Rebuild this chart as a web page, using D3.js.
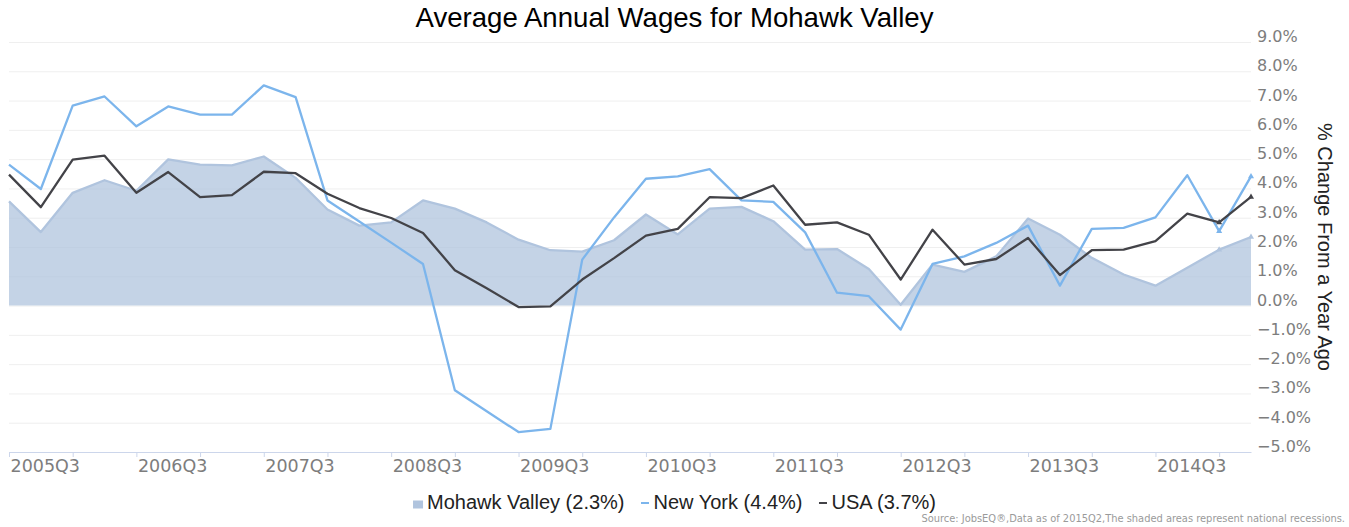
<!DOCTYPE html>
<html>
<head>
<meta charset="utf-8">
<style>
body { margin: 0; background: #fff; }
.grid line { stroke: #efefef; stroke-width: 1px; }
.grid path { display: none; }
.tick-labels text { font-family: "DejaVu Sans", sans-serif; fill: #7d7d7d; }
.tick-labels path, .tick-labels line { display: none; }
.x-ticks path, .x-ticks line { stroke: #ccd6eb; }
.line { fill: none; stroke-width: 2.3px; stroke-linejoin: round; }
</style>
</head>
<body>
<script src="https://d3js.org/d3.v7.min.js"></script>
<script>

// quarters on the x axis
var quarters = [
  "2005Q3", "2005Q4", "2006Q1", "2006Q2", "2006Q3", "2006Q4", "2007Q1", "2007Q2",
  "2007Q3", "2007Q4", "2008Q1", "2008Q2", "2008Q3", "2008Q4", "2009Q1", "2009Q2",
  "2009Q3", "2009Q4", "2010Q1", "2010Q2", "2010Q3", "2010Q4", "2011Q1", "2011Q2",
  "2011Q3", "2011Q4", "2012Q1", "2012Q2", "2012Q3", "2012Q4", "2013Q1", "2013Q2",
  "2013Q3", "2013Q4", "2014Q1", "2014Q2", "2014Q3", "2014Q4", "2015Q1", "2015Q2"
];

// % change from a year ago
var mohawkValley = [
  3.56, 2.51, 3.85, 4.28, 3.92, 4.99, 4.81, 4.79, 5.09, 4.36,
  3.28, 2.73, 2.84, 3.59, 3.31, 2.84, 2.25, 1.89, 1.84, 2.23,
  3.11, 2.43, 3.31, 3.37, 2.88, 1.91, 1.93, 1.25, 0.03, 1.40,
  1.15, 1.68, 2.97, 2.42, 1.63, 1.06, 0.68, 1.29, 1.91, 2.34
];
var newYork = [
  4.81, 3.98, 6.83, 7.14, 6.12, 6.80, 6.52, 6.52, 7.52, 7.12,
  3.59, 2.87, 2.15, 1.42, -2.89, -3.61, -4.32, -4.21, 1.57, 3.01,
  4.33, 4.41, 4.66, 3.59, 3.54, 2.50, 0.44, 0.32, -0.82, 1.42,
  1.68, 2.14, 2.73, 0.68, 2.62, 2.65, 3.01, 4.45, 2.54, 4.41
];
var usa = [
  4.47, 3.36, 4.98, 5.12, 3.85, 4.56, 3.70, 3.77, 4.57, 4.52,
  3.82, 3.33, 2.99, 2.48, 1.21, 0.59, -0.05, -0.03, 0.89, 1.62,
  2.39, 2.62, 3.70, 3.67, 4.10, 2.76, 2.84, 2.42, 0.89, 2.59,
  1.40, 1.59, 2.31, 1.04, 1.89, 1.91, 2.20, 3.14, 2.84, 3.71
];

var yTicks = [-5, -4, -3, -2, -1, 0, 1, 2, 3, 4, 5, 6, 7, 8, 9];
var xLabels = ["2005Q3", "2006Q3", "2007Q3", "2008Q3", "2009Q3",
               "2010Q3", "2011Q3", "2012Q3", "2013Q3", "2014Q3"];
var legendLabels = ["Mohawk Valley (2.3%)", "New York (4.4%)", "USA (3.7%)"];

var width = 1349, height = 527;
var plot = {left: 9, right: 1251, top: 42, bottom: 452};

var svg = d3.select("body").append("svg")
    .attr("width", width)
    .attr("height", height);

var x = d3.scalePoint().domain(quarters).range([plot.left, plot.right]);
var y = d3.scaleLinear().domain([-5, 9]).range([plot.bottom, plot.top]);

// grid lines
svg.append("g")
    .attr("class", "grid")
    .attr("transform", "translate(" + plot.left + ",0)")
    .call(d3.axisRight(y).tickValues(yTicks).tickSize(plot.right - plot.left).tickFormat(""));

// x axis line + tick marks every second quarter
svg.append("g")
    .attr("class", "x-ticks")
    .attr("transform", "translate(0," + plot.bottom + ")")
    .call(d3.axisBottom(x)
      .tickValues(quarters.filter(function(d, i) { return i % 2 === 0; }))
      .tickSize(5).tickSizeOuter(0).tickFormat(""));

// x labels, left-aligned at their tick
var xl = svg.append("g")
    .attr("class", "tick-labels")
    .attr("transform", "translate(0," + plot.bottom + ")")
    .call(d3.axisBottom(x).tickValues(xLabels).tickSize(0).tickPadding(0));
xl.selectAll("text")
    .attr("text-anchor", "start")
    .attr("x", 1)
    .attr("y", 20)
    .attr("dy", 0)
    .style("font-size", "17.5px");

// y labels on the right
var fmt = d3.format(".1f");
var yl = svg.append("g")
    .attr("class", "tick-labels")
    .attr("transform", "translate(1257,0)")
    .call(d3.axisRight(y).tickValues(yTicks).tickSize(0).tickPadding(0)
      .tickFormat(function(d) { return fmt(d) + "%"; }));
yl.selectAll("text")
    .attr("x", 0)
    .attr("y", -0.5)
    .attr("dy", 0)
    .style("font-size", "16px");

// Mohawk Valley area
var area = d3.area()
    .x(function(d, i) { return x(quarters[i]); })
    .y0(y(0))
    .y1(function(d) { return y(d); });
var line = d3.line()
    .x(function(d, i) { return x(quarters[i]); })
    .y(function(d) { return y(d); });

svg.append("path")
    .datum(mohawkValley)
    .attr("fill", "#b0c4de")
    .attr("fill-opacity", 0.75)
    .attr("d", area);
svg.append("path")
    .datum(mohawkValley)
    .attr("class", "line")
    .attr("stroke", "#b0c4de")
    .attr("d", line);

svg.append("path")
    .datum(newYork)
    .attr("class", "line")
    .attr("stroke", "#7cb5ec")
    .attr("d", line);

svg.append("path")
    .datum(usa)
    .attr("class", "line")
    .attr("stroke", "#434348")
    .attr("d", line);

// small markers on the last two quarters
var tri = d3.symbol().type(d3.symbolTriangle).size(16);
[[mohawkValley, "#b0c4de"], [newYork, "#7cb5ec"], [usa, "#434348"]].forEach(function(s) {
  svg.selectAll(null)
      .data(quarters.slice(-2))
      .enter().append("path")
      .attr("d", tri)
      .attr("fill", s[1])
      .attr("transform", function(q) {
        return "translate(" + x(q) + "," + y(s[0][quarters.indexOf(q)]) + ")";
      });
});

// title
svg.append("text")
    .attr("x", width / 2)
    .attr("y", 27)
    .attr("text-anchor", "middle")
    .style("font-family", "'Liberation Sans', Arial, sans-serif")
    .style("font-size", "27.6px")
    .style("fill", "#000")
    .text("Average Annual Wages for Mohawk Valley");

// y axis title
svg.append("text")
    .attr("transform", "translate(1318," + ((plot.top + plot.bottom) / 2) + ") rotate(90)")
    .attr("text-anchor", "middle")
    .style("font-family", "'Liberation Sans', Arial, sans-serif")
    .style("font-size", "20px")
    .style("fill", "#222")
    .text("% Change From a Year Ago");

// legend
var legend = svg.append("g");
var colors = ["#b0c4de", "#7cb5ec", "#434348"];
var cx = 0;
legendLabels.forEach(function(label, i) {
  var item = legend.append("g").attr("transform", "translate(" + cx + ",0)");
  var sw;
  if (i === 0) {
    item.append("rect").attr("x", 0).attr("y", -8.5).attr("width", 10).attr("height", 8)
        .attr("fill", colors[i]);
    sw = 14;
  } else {
    item.append("rect").attr("x", 0).attr("y", -7).attr("width", 8).attr("height", 2)
        .attr("fill", colors[i]);
    sw = 12.5;
  }
  var t = item.append("text")
      .attr("x", sw)
      .attr("y", 0)
      .style("font-family", "'Liberation Sans', Arial, sans-serif")
      .style("font-size", "20px")
      .style("fill", "#222")
      .text(label);
  cx += sw + t.node().getComputedTextLength() + 16.5;
});
var legendW = cx - 16.5;
legend.attr("transform", "translate(" + (width / 2 - legendW / 2) + ",509)");

// source note
svg.append("text")
    .attr("x", 1345)
    .attr("y", 521.5)
    .attr("text-anchor", "end")
    .style("font-family", "'DejaVu Sans', sans-serif")
    .style("font-size", "9.9px")
    .style("fill", "#9a9a9a")
    .text("Source: JobsEQ\u00ae,Data as of 2015Q2,The shaded areas represent national recessions.");

</script>
</body>
</html>
